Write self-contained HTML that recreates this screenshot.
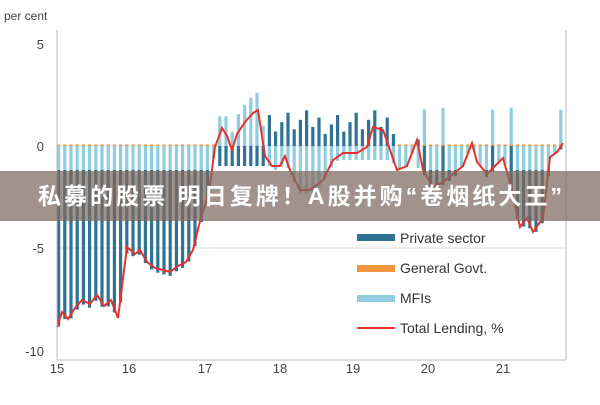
<!DOCTYPE html>
<html><head><meta charset="utf-8"><style>
body{margin:0;width:600px;height:400px;background:#fff;overflow:hidden;font-family:"Liberation Sans","Noto Sans CJK SC",sans-serif}
</style></head><body>
<svg id="s" width="600" height="400" xmlns="http://www.w3.org/2000/svg" font-family="Liberation Sans, Noto Sans CJK SC, sans-serif">
<text x="4" y="20" font-size="12" fill="#444">per cent</text>
<g font-size="13" fill="#444" text-anchor="end">
<text x="44" y="49">5</text><text x="44" y="151">0</text><text x="44" y="253">-5</text><text x="44" y="356">-10</text>
</g>
<g font-size="13" fill="#444" text-anchor="middle">
<text x="57" y="373">15</text><text x="129" y="373">16</text><text x="205" y="373">17</text><text x="280" y="373">18</text><text x="353" y="373">19</text><text x="428" y="373">20</text><text x="503" y="373">21</text>
</g>
<line x1="57" y1="248" x2="566" y2="248" stroke="#ddd"/>
<line x1="57" y1="146" x2="566" y2="146" stroke="#ddd"/>
<g id="bars"></g>
<polyline id="ln" fill="none" stroke="#e8312a" stroke-width="2"/>
<line x1="57" y1="30" x2="57" y2="360" stroke="#bbb"/>
<line x1="566" y1="30" x2="566" y2="360" stroke="#bbb"/>
<line x1="57" y1="360" x2="566" y2="360" stroke="#bbb"/>
<g font-size="14" fill="#333">
<rect x="357" y="234" width="38" height="7" fill="#2e7394"/><text x="400" y="243">Private sector</text>
<rect x="357" y="265" width="38" height="7" fill="#f0963c"/><text x="400" y="273">General Govt.</text>
<rect x="357" y="295" width="38" height="7" fill="#8fcde0"/><text x="400" y="303">MFIs</text>
<line x1="357" y1="328" x2="395" y2="328" stroke="#e8312a" stroke-width="2"/><text x="400" y="333">Total Lending, %</text>
</g>
<rect x="0" y="171" width="600" height="50" fill="rgb(125,105,95)" fill-opacity="0.72"/>
<text x="300" y="204" font-size="23" font-weight="bold" fill="#fff" text-anchor="middle" textLength="524" lengthAdjust="spacing">私募的股票 明日复牌！A股并购“卷烟纸大王”</text>
</svg>
<script>
var P=[[57,327],[62,312],[68,319],[75,308],[82,300],[90,304],[97,295],[104,306],[111,300],[118,318],[127,247],[135,254],[140,250],[147,262],[155,268],[163,270],[170,272],[178,266],[186,262],[193,250],[199,225],[205,205],[210,185],[215,147],[222,128],[227,136],[232,150],[237,134],[245,122],[253,113],[258,110],[265,156],[272,166],[280,166],[285,156],[290,170],[300,190],[310,190],[323,180],[333,160],[343,153],[357,153],[367,147],[373,127],[383,130],[390,150],[397,170],[407,166],[417,140],[423,170],[433,187],[443,182],[453,174],[463,166],[472,143],[477,162],[487,174],[497,164],[503,158],[510,183],[520,227],[527,218],[533,232],[543,218],[550,157],[557,152],[563,143]];
document.getElementById('ln').setAttribute('points',P.map(p=>p.join(',')).join(' '));
function yAt(x){for(var i=1;i<P.length;i++){if(x<=P[i][0]){var a=P[i-1],b=P[i];return a[1]+(b[1]-a[1])*(x-a[0])/(b[0]-a[0]);}}return P[P.length-1][1];}
var g='',z=146,k=0;
function R(x,y,h,c){if(h<0){y+=h;h=-h;}g+='<rect x="'+x.toFixed(1)+'" y="'+y.toFixed(1)+'" width="3.2" height="'+h.toFixed(1)+'" fill="'+c+'"/>';}
for(var x=57;x<565;x+=6.2){k++;var y=yAt(x+1.5);var n=((k*37)%11)/11;
 if(x>215&&x<262){R(x,y-18,z-y+18,'#8fcde0');R(x,z,20,'#2e7394');}
 else if(x>=262&&x<395){var h=12+n*26;R(x,z-h,h,'#2e7394');var lb=Math.max(y+4,z+14);R(x,z,lb-z,'#8fcde0');}
 else if(y<z){R(x,y-6,z-y+6,'#2e7394');R(x,z,22,'#8fcde0');}
 else{var lb=Math.min(y,z+24);
   if(x>395&&n>0.75){R(x,z-20-n*20,20+n*20,'#8fcde0');R(x,z,y-z+3,'#2e7394');}
   else{R(x,z,lb-z,'#8fcde0');if(y>lb)R(x,lb,y-lb+4,'#2e7394');}
   R(x,z-1.5,1.5,'#f0963c');}
}
document.getElementById('bars').innerHTML=g;
</script>
</body></html>
